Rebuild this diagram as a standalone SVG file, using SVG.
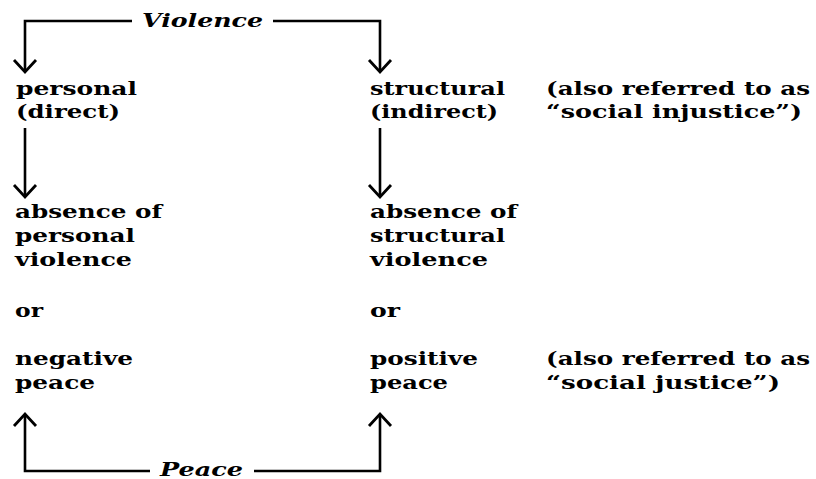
<svg xmlns="http://www.w3.org/2000/svg" width="816" height="479" viewBox="0 0 816 479">
<style>
.t{font-family:"DejaVu Serif","Liberation Serif",serif;font-weight:bold;font-size:18px;fill:#000}
.h{font-family:"DejaVu Serif","Liberation Serif",serif;font-weight:bold;font-style:italic;font-size:19px;fill:#000}
.c{fill:none;stroke:#000;stroke-width:2.6}
</style>
<defs>
<marker id="ah" markerUnits="userSpaceOnUse" markerWidth="30" markerHeight="30" viewBox="-15 -15 30 30" refX="0" refY="0" orient="auto" overflow="visible">
<path d="M-12,-11 L0,0 L-12,11" fill="none" stroke="#000" stroke-width="2.8"/>
</marker>
</defs>
<rect width="816" height="479" fill="#fff"/>
<g id="connectors">
<path class="c" d="M132,21 H25 V72" marker-end="url(#ah)"/>
<path class="c" d="M273,21 H380 V72" marker-end="url(#ah)"/>
<path class="c" d="M25,128 V197" marker-end="url(#ah)"/>
<path class="c" d="M380,128 V197" marker-end="url(#ah)"/>
<path class="c" d="M150,471 H25 V414" marker-end="url(#ah)"/>
<path class="c" d="M254,471 H380 V414" marker-end="url(#ah)"/>
</g>
<g id="violence"><text class="h" x="142" y="27" textLength="121" lengthAdjust="spacingAndGlyphs">Violence</text></g>
<g id="peace"><text class="h" x="160" y="476" textLength="83" lengthAdjust="spacingAndGlyphs">Peace</text></g>
<g id="personal">
<text class="t" x="16" y="95" textLength="121" lengthAdjust="spacingAndGlyphs">personal</text>
<text class="t" x="16" y="118" textLength="104" lengthAdjust="spacingAndGlyphs">(direct)</text>
</g>
<g id="structural">
<text class="t" x="370" y="95" textLength="135" lengthAdjust="spacingAndGlyphs">structural</text>
<text class="t" x="370" y="118" textLength="128" lengthAdjust="spacingAndGlyphs">(indirect)</text>
</g>
<g id="injustice-note">
<text class="t" x="546" y="95" textLength="264" lengthAdjust="spacingAndGlyphs">(also referred to as</text>
<text class="t" x="546" y="118" textLength="256" lengthAdjust="spacingAndGlyphs">“social injustice”)</text>
</g>
<g id="negative-peace">
<text class="t" x="15" y="218" textLength="147" lengthAdjust="spacingAndGlyphs">absence of</text>
<text class="t" x="15" y="242" textLength="120" lengthAdjust="spacingAndGlyphs">personal</text>
<text class="t" x="15" y="266" textLength="117" lengthAdjust="spacingAndGlyphs">violence</text>
<text class="t" x="15" y="317" textLength="28" lengthAdjust="spacingAndGlyphs">or</text>
<text class="t" x="15" y="365" textLength="118" lengthAdjust="spacingAndGlyphs">negative</text>
<text class="t" x="15" y="389" textLength="80" lengthAdjust="spacingAndGlyphs">peace</text>
</g>
<g id="positive-peace">
<text class="t" x="370" y="218" textLength="147" lengthAdjust="spacingAndGlyphs">absence of</text>
<text class="t" x="370" y="242" textLength="135" lengthAdjust="spacingAndGlyphs">structural</text>
<text class="t" x="370" y="266" textLength="118" lengthAdjust="spacingAndGlyphs">violence</text>
<text class="t" x="370" y="317" textLength="30" lengthAdjust="spacingAndGlyphs">or</text>
<text class="t" x="370" y="365" textLength="108" lengthAdjust="spacingAndGlyphs">positive</text>
<text class="t" x="370" y="389" textLength="78" lengthAdjust="spacingAndGlyphs">peace</text>
</g>
<g id="justice-note">
<text class="t" x="546" y="365" textLength="264" lengthAdjust="spacingAndGlyphs">(also referred to as</text>
<text class="t" x="546" y="389" textLength="234" lengthAdjust="spacingAndGlyphs">“social justice”)</text>
</g>
</svg>
